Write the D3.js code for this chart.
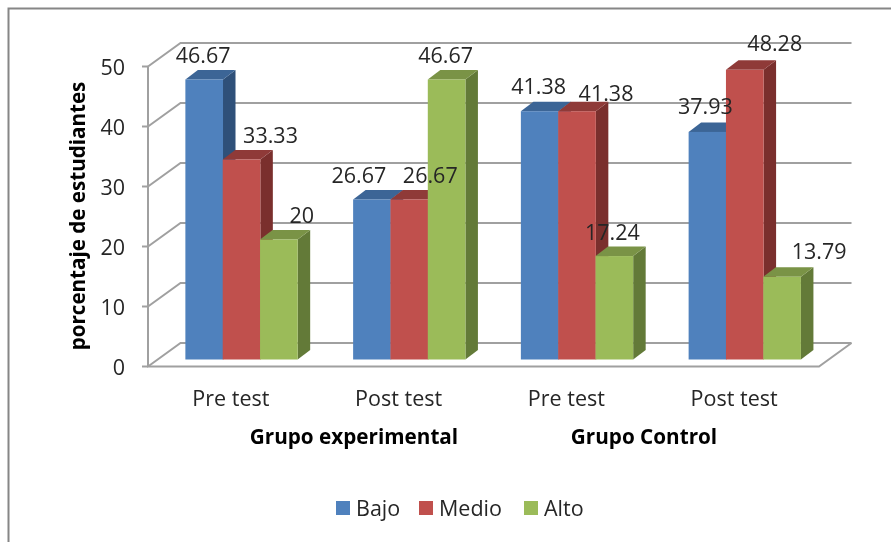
<!DOCTYPE html>
<html><head><meta charset="utf-8">
<script src="https://cdn.jsdelivr.net/npm/d3@7"></script>
<style>
html,body{margin:0;padding:0;background:#fff;}
svg{display:block;filter:blur(0.35px);}
text{font-family:"Open Sans",Lato,sans-serif;fill:#262626;}
</style></head><body>
<div id="chart"></div>
<script>
const periods = ["Pre test","Post test","Pre test","Post test"];
const groups = ["Grupo experimental","Grupo Control"];
const seriesNames = ["Bajo","Medio","Alto"];
const bajo = [46.67,26.67,41.38,37.93];
const medio = [33.33,26.67,41.38,48.28];
const alto = [20,46.67,17.24,13.79];
const labelsBajo = ["46.67","26.67","41.38","37.93"];
const labelsMedio = ["33.33","26.67","41.38","48.28"];
const labelsAlto = ["20","46.67","17.24","13.79"];
const yTicks = [0,10,20,30,40,50];
const yTitle = "porcentaje de estudiantes";

const front = ["#4f81bd","#c0504d","#9bbb59"];
const top3 = ["#3c6596","#8f3a38","#7a9346"];
const side = ["#2f5079","#7a2f2d","#637a38"];

// label placement as offsets from the bar's top-centre, per series then per period
const nudge = [
  [[-1,-25.5],[-13,-25.5],[-1,-26],[-2,-26]],
  [[29,-25.5],[21,-25.5],[29,-19],[30,-27]],
  [[23,-25.5],[-1,-25.5],[-2,-25],[37,-26]]
];

const W=891,H=542;
const svg=d3.select("#chart").append("svg").attr("width",W).attr("height",H);
const left=148,right=819,base=366.5,plotH=300;
const depthX=32.5,depthY=23.5;
const x=d3.scaleBand().domain(d3.range(periods.length)).range([left,right]);
const inner=d3.scaleBand().domain(d3.range(seriesNames.length)).range([-56,56]);
const y=d3.scaleLinear().domain([0,50]).range([base,base-plotH]);

// frame
svg.append("path").attr("d",`M8.5,${H}V8.5H${W}`).attr("fill","none").attr("stroke","#868686").attr("stroke-width",2);

const grid="#a0a0a0";
const g=svg.append("g").attr("fill","none").attr("stroke",grid).attr("stroke-width",2);
yTicks.forEach(t=>{
  g.append("path").attr("d",`M${left},${y(t)}L${left+depthX},${y(t)-depthY}H${right+depthX}`);
  g.append("path").attr("d",`M${left-6},${y(t)}H${left}`);
});
g.append("path").attr("d",`M${left},${y(50)}V${base}H${right}L${right+depthX},${base-depthY}`);

// y tick labels
svg.selectAll(".yl").data(yTicks).join("text")
  .attr("x",125).attr("y",d=>y(d)+1).attr("text-anchor","end")
  .attr("dy","0.35em").attr("font-size",21.5).text(d=>d);

// bars
const barOffX=9.5,barOffY=7,sideX=12.5,sideY=9.5;
const values=[bajo,medio,alto];
const labels=[labelsBajo,labelsMedio,labelsAlto];
const bw=inner.bandwidth()+.3;
periods.forEach((p,i)=>{
  const cx=x(i)+x.bandwidth()/2;
  seriesNames.forEach((s,k)=>{
    const v=values[k][i];
    const xl=cx+inner(k)+barOffX, xr=xl+bw;
    const b=y(0)-barOffY, t=y(v)-barOffY;
    svg.append("path").attr("fill",side[k]).attr("d",`M${xr},${t}L${xr+sideX},${t-sideY}V${b-sideY}L${xr},${b}Z`);
    svg.append("path").attr("fill",top3[k]).attr("d",`M${xl},${t}L${xl+sideX},${t-sideY}H${xr+sideX}L${xr},${t}Z`);
    svg.append("rect").attr("x",xl).attr("y",t).attr("width",bw).attr("height",b-t).attr("fill",front[k]);
  });
});
// data labels drawn on top
periods.forEach((p,i)=>{
  const cx=x(i)+x.bandwidth()/2;
  seriesNames.forEach((s,k)=>{
    const v=values[k][i];
    const xc=cx+inner(k)+barOffX+bw/2;
    const t=y(v)-barOffY;
    svg.append("text").attr("x",xc+nudge[k][i][0]).attr("y",t+nudge[k][i][1]+1)
      .attr("text-anchor","middle").attr("dy","0.35em").attr("font-size",21.5).text(labels[k][i]);
  });
});

// category labels
svg.selectAll(".cat").data(periods).join("text")
  .attr("x",(d,i)=>x(i)+x.bandwidth()/2-1).attr("y",398).attr("text-anchor","middle")
  .attr("dy","0.35em").attr("font-size",21.5).text(d=>d);
const groupCentre=[354,644];
groups.forEach((d,i)=>svg.append("text").attr("x",groupCentre[i]).attr("y",437).attr("text-anchor","middle")
  .attr("dy","0.35em").attr("font-size",20.7).attr("font-weight",700).style("fill","#000").text(d));

// y title
svg.append("text").attr("transform","translate(78,216) rotate(-90)").attr("text-anchor","middle")
  .attr("dy","0.35em").attr("font-size",20.6).attr("font-weight",700).style("fill","#000").text(yTitle);

// legend
const legendX=[336,419,524];
seriesNames.forEach((s,k)=>{
  svg.append("rect").attr("x",legendX[k]).attr("y",501).attr("width",14).attr("height",14).attr("fill",front[k]);
  svg.append("text").attr("x",legendX[k]+20).attr("y",508).attr("dy","0.35em").attr("font-size",21.5).text(s);
});
</script></body></html>
